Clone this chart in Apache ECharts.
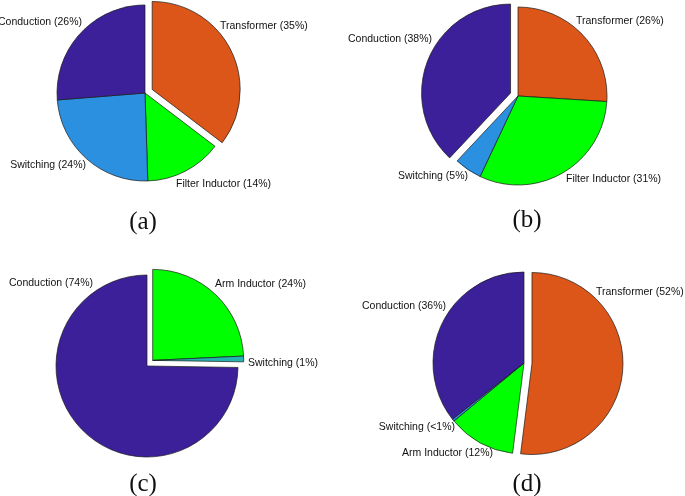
<!DOCTYPE html>
<html>
<head>
<meta charset="utf-8">
<script src="https://cdn.jsdelivr.net/npm/echarts@6/dist/echarts.min.js"></script>
<style>
html,body{margin:0;padding:0;background:#fff;}
#chart{width:685px;height:496px;}
</style>
</head>
<body>
<div id="chart"></div>
<script>
// ---- Data ----
var namesA = ['Transformer', 'Filter Inductor', 'Switching', 'Conduction'];
var valuesA = [35, 14, 24, 26];
var pctA = ['35%', '14%', '24%', '26%'];
var explodeA = [true, false, false, false];

var namesB = ['Transformer', 'Filter Inductor', 'Switching', 'Conduction'];
var valuesB = [26, 31, 5, 38];
var pctB = ['26%', '31%', '5%', '38%'];
var explodeB = [false, false, false, true];

var namesC = ['Arm Inductor', 'Switching', 'Conduction'];
var valuesC = [24, 1, 74];
var pctC = ['24%', '1%', '74%'];
var explodeC = [true, true, false];

var namesD = ['Transformer', 'Arm Inductor', 'Switching', 'Conduction'];
var valuesD = [52, 12, 0.4, 35.6];
var pctD = ['52%', '12%', '<1%', '36%'];
var explodeD = [true, false, false, false];

var captions = ['(a)', '(b)', '(c)', '(d)'];

// ---- Styles ----
var colorMap = {
  'Transformer': '#dc5519',
  'Filter Inductor': '#00ff00',
  'Arm Inductor': '#00ff00',
  'Conduction': '#3c2099',
  'Switching': '#2b90e0'
};
var switchingColorC = '#22b5b0';
var explodeDist = 8;

var layouts = [
  {center: [145, 93], radius: 88, labels: [[220, 26, 'left'], [176, 184, 'left'], [86, 165, 'right'], [82, 22, 'right']]},
  {center: [518, 96], radius: 89, labels: [[576, 21, 'left'], [566, 179, 'left'], [468, 176, 'right'], [432, 39, 'right']]},
  {center: [147, 366], radius: 91, labels: [[215, 284, 'left'], [248, 363, 'left'], [93, 283, 'right']]},
  {center: [524, 363], radius: 91, labels: [[596, 292, 'left'], [493, 453, 'right'], [455, 427, 'right'], [446, 306, 'right']]}
];
var captionPos = [[143, 222], [527, 220], [143, 484], [527, 484]];

var sets = [
  [namesA, valuesA, pctA, explodeA],
  [namesB, valuesB, pctB, explodeB],
  [namesC, valuesC, pctC, explodeC],
  [namesD, valuesD, pctD, explodeD]
];

var hidden = {color: 'rgba(0,0,0,0)', borderColor: 'rgba(0,0,0,0)', borderWidth: 0};

function buildSeries(idx) {
  var s = sets[idx], L = layouts[idx];
  var names = s[0], vals = s[1], pcts = s[2], ex = s[3];
  var total = vals.reduce(function (a, b) { return a + b; }, 0);
  // angular extent of exploded group (clockwise from top)
  var cum = 0, exStart = null, exEnd = null;
  vals.forEach(function (v, i) {
    if (ex[i]) {
      if (exStart === null) exStart = cum;
      exEnd = cum + v;
    }
    cum += v;
  });
  var mid = ((exStart + exEnd) / 2) / total * 2 * Math.PI;
  var dx = explodeDist * Math.sin(mid), dy = -explodeDist * Math.cos(mid);

  function makeData(wantExploded) {
    return names.map(function (n, i) {
      var col = colorMap[n];
      if (idx === 2 && n === 'Switching') col = switchingColorC;
      var visible = (ex[i] === wantExploded);
      return {
        name: n,
        value: vals[i],
        itemStyle: visible ? {color: col} : hidden,
        label: visible ? {show: true, formatter: n + ' (' + pcts[i] + ')'} : {show: false}
      };
    });
  }
  function makeSeries(center, wantExploded) {
    return {
      type: 'pie',
      center: center,
      radius: L.radius,
      startAngle: 90,
      clockwise: true,
      avoidLabelOverlap: false,
      animation: false,
      silent: true,
      itemStyle: {borderColor: '#1a1a1a', borderWidth: 0.7},
      emphasis: {disabled: true},
      label: {
        show: true,
        position: 'outside',
        color: '#111',
        fontFamily: 'Liberation Sans, Arial, sans-serif',
        fontSize: 10.5
      },
      labelLine: {show: false},
      labelLayout: function (p) {
        var lp = L.labels[p.dataIndex];
        return {x: lp[0], y: lp[1], align: lp[2], verticalAlign: 'middle'};
      },
      data: makeData(wantExploded)
    };
  }
  return [
    makeSeries(L.center, false),
    makeSeries([L.center[0] + dx, L.center[1] + dy], true)
  ];
}

var series = [];
[0, 1, 2, 3].forEach(function (i) { series = series.concat(buildSeries(i)); });

var option = {
  backgroundColor: '#fff',
  title: captions.map(function (c, i) {
    return {
      text: c,
      left: captionPos[i][0],
      top: captionPos[i][1] - 13,
      padding: 0,
      textAlign: 'center',
      textStyle: {fontFamily: 'Liberation Serif, Times New Roman, serif', fontSize: 25, fontWeight: 'normal', color: '#111', lineHeight: 26}
    };
  }),
  series: series
};

var chart = echarts.init(document.getElementById('chart'), null, {renderer: 'canvas'});
chart.setOption(option);
</script>
</body>
</html>
